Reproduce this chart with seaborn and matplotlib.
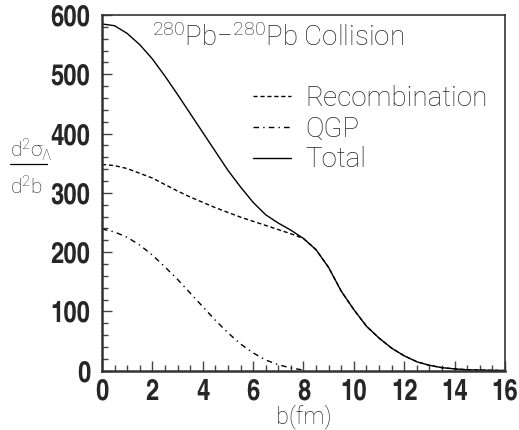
import matplotlib
matplotlib.use("Agg")
import matplotlib.pyplot as plt
from matplotlib.lines import Line2D
import numpy as np
import pandas as pd
import seaborn as sns

# ---- data ----
b_grid = [0, 0.5, 1, 1.5, 2, 2.5, 3, 3.5, 4, 4.5, 5, 5.5, 6, 6.5, 7, 7.5, 8,
          8.5, 9, 9.5, 10, 10.5, 11, 11.5, 12, 12.5, 13, 13.5, 14, 14.5, 15, 15.5, 16]
total = [585, 582, 569, 550, 526, 497, 466, 434, 402, 370, 338, 310, 284, 263, 249, 237, 223,
         204, 174, 134, 103, 75, 55, 38, 25, 15, 9, 5, 3, 1.5, 1, 0.5, 0.3]
recombination = [348, 346, 341, 333, 325, 314, 303, 293, 284, 275, 267, 259, 252, 245, 238, 231, 223,
                 204, 174, 134, 103, 75, 55, 38, 25, 15, 9, 5, 3, 1.5, 1, 0.5, 0.3]
b_qgp = [0, 0.5, 1, 1.5, 2, 2.5, 3, 3.5, 4, 4.5, 5, 5.5, 6, 6.5, 7, 7.5, 8]
qgp = [239, 234, 225, 212, 195, 175, 154, 131, 108, 85, 64, 45, 30, 18, 10, 4.5, 1]

series_names = ["Recombination", "QGP", "Total"]
x_ticks = [0, 2, 4, 6, 8, 10, 12, 14, 16]
y_ticks = [0, 100, 200, 300, 400, 500, 600]
title_text = r"$^{280}$Pb$-^{280}$Pb Collision"
x_label = "b(fm)"
y_label_num = r"d$^2$σ$_Λ$"
y_label_den = r"d$^2$b"

df = pd.concat([
    pd.DataFrame({"b": b_grid, "v": recombination, "s": "Recombination"}),
    pd.DataFrame({"b": b_qgp, "v": qgp, "s": "QGP"}),
    pd.DataFrame({"b": b_grid, "v": total, "s": "Total"}),
], ignore_index=True)

sns.set_theme(style="white")
light = ["Roboto", "DejaVu Sans"]
plt.rcParams["font.family"] = light
plt.rcParams["mathtext.default"] = "regular"

fig = plt.figure(figsize=(5.19, 4.30), dpi=100)
ax = fig.add_axes([0.1965, 0.138, 0.7765, 0.827])

sns.lineplot(data=df, x="b", y="v", hue="s", style="s", hue_order=series_names,
             style_order=series_names, palette=["black"] * 3,
             dashes={"Recombination": (3, 2), "QGP": (4, 3, 1, 3), "Total": ""},
             estimator=None, sort=False, linewidth=1.0, ax=ax)

ax.set_xlim(0, 16)
ax.set_ylim(0, 600)
ax.set_xticks(x_ticks)
ax.set_yticks(y_ticks)
ax.set_xticks(np.arange(0, 16.01, 0.5), minor=True)
ax.set_yticks(np.arange(0, 600.1, 20), minor=True)

tick_font = dict(family=["TeX Gyre Heros Cn", "Roboto Condensed", "DejaVu Sans"],
                 weight="bold", size=21)
ax.set_xticklabels([str(t) for t in x_ticks], fontdict=tick_font)
ax.set_yticklabels([str(t) for t in y_ticks], fontdict=tick_font)
ax.tick_params(axis="both", which="major", direction="in", length=7, width=1.0,
               color="#444444", top=False, right=False, bottom=True, left=True)
ax.tick_params(axis="both", which="minor", direction="in", length=4, width=1.0,
               color="#444444", top=False, right=False, bottom=True, left=True)
ax.tick_params(axis="y", which="major", pad=8.5)
ax.tick_params(axis="x", which="major", pad=6.0)

for side, sp in ax.spines.items():
    sp.set_visible(True)
    sp.set_color("#333333")
    sp.set_linewidth(1.2)
ax.spines["left"].set_linewidth(1.8)
ax.spines["bottom"].set_linewidth(1.8)

ax.set_xlabel(x_label, fontsize=17, fontweight="light", labelpad=-1.5)
ax.set_ylabel("")

# y label drawn as a fraction
ax.text(-0.228, 0.601, y_label_num, transform=ax.transAxes, fontsize=15,
        fontweight="light", ha="left", va="baseline")
ax.text(-0.228, 0.494, y_label_den, transform=ax.transAxes, fontsize=15,
        fontweight="light", ha="left", va="baseline")
ax.add_line(Line2D([-0.228, -0.136], [0.580, 0.580], transform=ax.transAxes,
                   color="black", linewidth=0.9, clip_on=False))

ax.text(0.125, 0.975, title_text, transform=ax.transAxes, fontsize=20,
        fontweight="light", ha="left", va="top")

leg = ax.legend(loc="upper left", bbox_to_anchor=(0.375, 0.803), frameon=False,
                fontsize=20, handlelength=1.37, handletextpad=0.5, labelspacing=0.13,
                borderaxespad=0, borderpad=0)
for t in leg.get_texts():
    t.set_fontweight("light")
for l in leg.get_lines():
    l.set_linewidth(1.0)

fig.savefig("out.png", dpi=100)
